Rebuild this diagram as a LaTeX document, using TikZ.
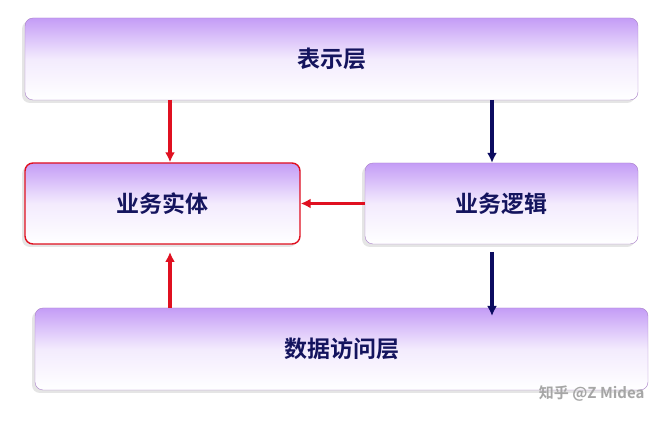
\documentclass[tikz,border=0pt]{standalone}
\usepackage{fontspec}
\newfontfamily\cjk{Noto Sans CJK SC Bold}
\usetikzlibrary{shadows,arrows.meta}
\definecolor{layertop}{HTML}{C49CF6}
\definecolor{layerline}{HTML}{A87FC8}
\definecolor{textnavy}{HTML}{14145E}
\definecolor{arrowred}{HTML}{E01020}
\definecolor{arrownavy}{HTML}{0C0C60}
\tikzset{
  layer/.style={draw=layerline, rounded corners=8pt, top color=layertop, bottom color=white,
    middle color=white!80!layertop, shading angle=0, inner sep=0pt,
    drop shadow={shadow xshift=-3pt, shadow yshift=-3pt, fill=black!10, opacity=1},
    font=\cjk\fontsize{23}{23}\selectfont, text=textnavy},
  redarrow/.style={-{Latex[length=10pt,width=10pt]}, line width=3.6pt, arrowred},
  navyarrow/.style={-{Latex[length=10pt,width=10pt]}, line width=3.6pt, arrownavy}
}
\begin{document}
\begin{tikzpicture}[x=1pt,y=-1pt]
  \useasboundingbox[fill=white] (0,0) rectangle (665,422);

  \node[layer, minimum width=613pt, minimum height=82pt] (present) at (331.5,59) {表示层};
  \node[layer, draw=arrowred, line width=1.4pt, minimum width=275pt, minimum height=81pt] (entity) at (162.5,203.5) {业务实体};
  \node[layer, minimum width=273pt, minimum height=81pt] (logic) at (501.5,203.5) {业务逻辑};
  \node[layer, minimum width=613pt, minimum height=82pt] (data) at (341.5,349) {数据访问层};

  \coordinate (pl) at (170,100);
  \coordinate (pr) at (492,100);
  \draw[redarrow] (pl) -- (pl |- entity.north);
  \draw[navyarrow] (pr) -- (pr |- logic.north);
  \draw[redarrow] (logic.west) -- (entity.east);
  \coordinate (lb) at (492,252);
  \draw[navyarrow] (lb) -- (492,316);
  \coordinate (eb) at (170,252);
  \draw[redarrow] (eb |- data.north) -- (eb);

  \node[text=black!35, font=\cjk\fontsize{15}{15}\selectfont, anchor=east] (mark) at (648,394) {知乎 @Z Midea};
\end{tikzpicture}
\end{document}
